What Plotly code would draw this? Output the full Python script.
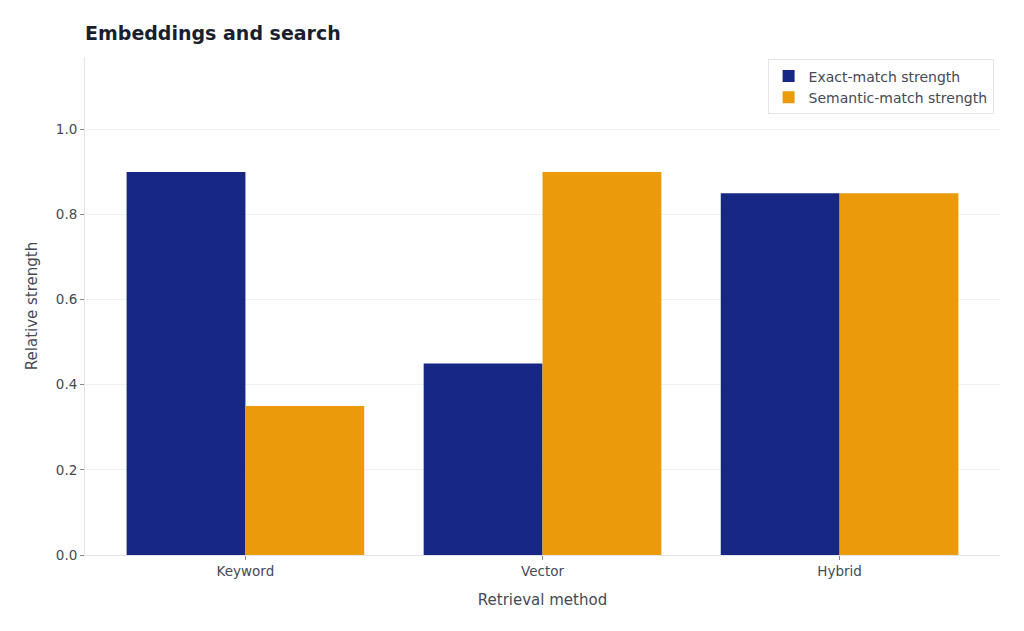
import plotly.graph_objects as go

categories = ["Keyword", "Vector", "Hybrid"]
exact_match = [0.90, 0.45, 0.85]
semantic_match = [0.35, 0.90, 0.85]
y_ticks = [0.0, 0.2, 0.4, 0.6, 0.8, 1.0]

FONT = "DejaVu Sans"
fig = go.Figure()
fig.add_trace(go.Bar(name="Exact-match strength", x=categories, y=exact_match,
                     marker=dict(color="#172884", line=dict(width=0))))
fig.add_trace(go.Bar(name="Semantic-match strength", x=categories, y=semantic_match,
                     marker=dict(color="#EB9A0A", line=dict(width=0))))

fig.update_layout(
    width=1024, height=631,
    margin=dict(l=85, r=24, t=57, b=76),
    paper_bgcolor="white", plot_bgcolor="white",
    barmode="group", bargap=0.2, bargroupgap=0,
    font=dict(family=FONT, color="#444a55", size=13.5),
    title=dict(text="<b>Embeddings and search</b>", x=85/1024, xanchor="left",
               y=1-33/631, yanchor="middle", yref="container",
               font=dict(size=19, color="#1a1f2e", family=FONT)),
    legend=dict(x=0.993, xanchor="right", y=0.995, yanchor="top",
                bgcolor="rgba(255,255,255,0.9)", bordercolor="#e3e5e8", borderwidth=1,
                font=dict(size=14, color="#444a55"), tracegroupgap=0, itemwidth=30),
    xaxis=dict(title=dict(text="Retrieval method", font=dict(size=15), standoff=16),
               range=[-0.54, 2.54], showline=True, linecolor="#e3e5e8",
               ticks="outside", ticklen=4, tickcolor="#888", showgrid=False),
    yaxis=dict(title=dict(text="Relative strength", font=dict(size=15), standoff=14),
               range=[0, 1.17], tickvals=y_ticks, ticktext=[f"{v:.1f}" for v in y_ticks],
               showline=True, linecolor="#e3e5e8", ticks="outside", ticklen=4,
               tickcolor="#888", showgrid=True, gridcolor="#f0f1f3", zeroline=False),
)
fig.write_html("out.html")
